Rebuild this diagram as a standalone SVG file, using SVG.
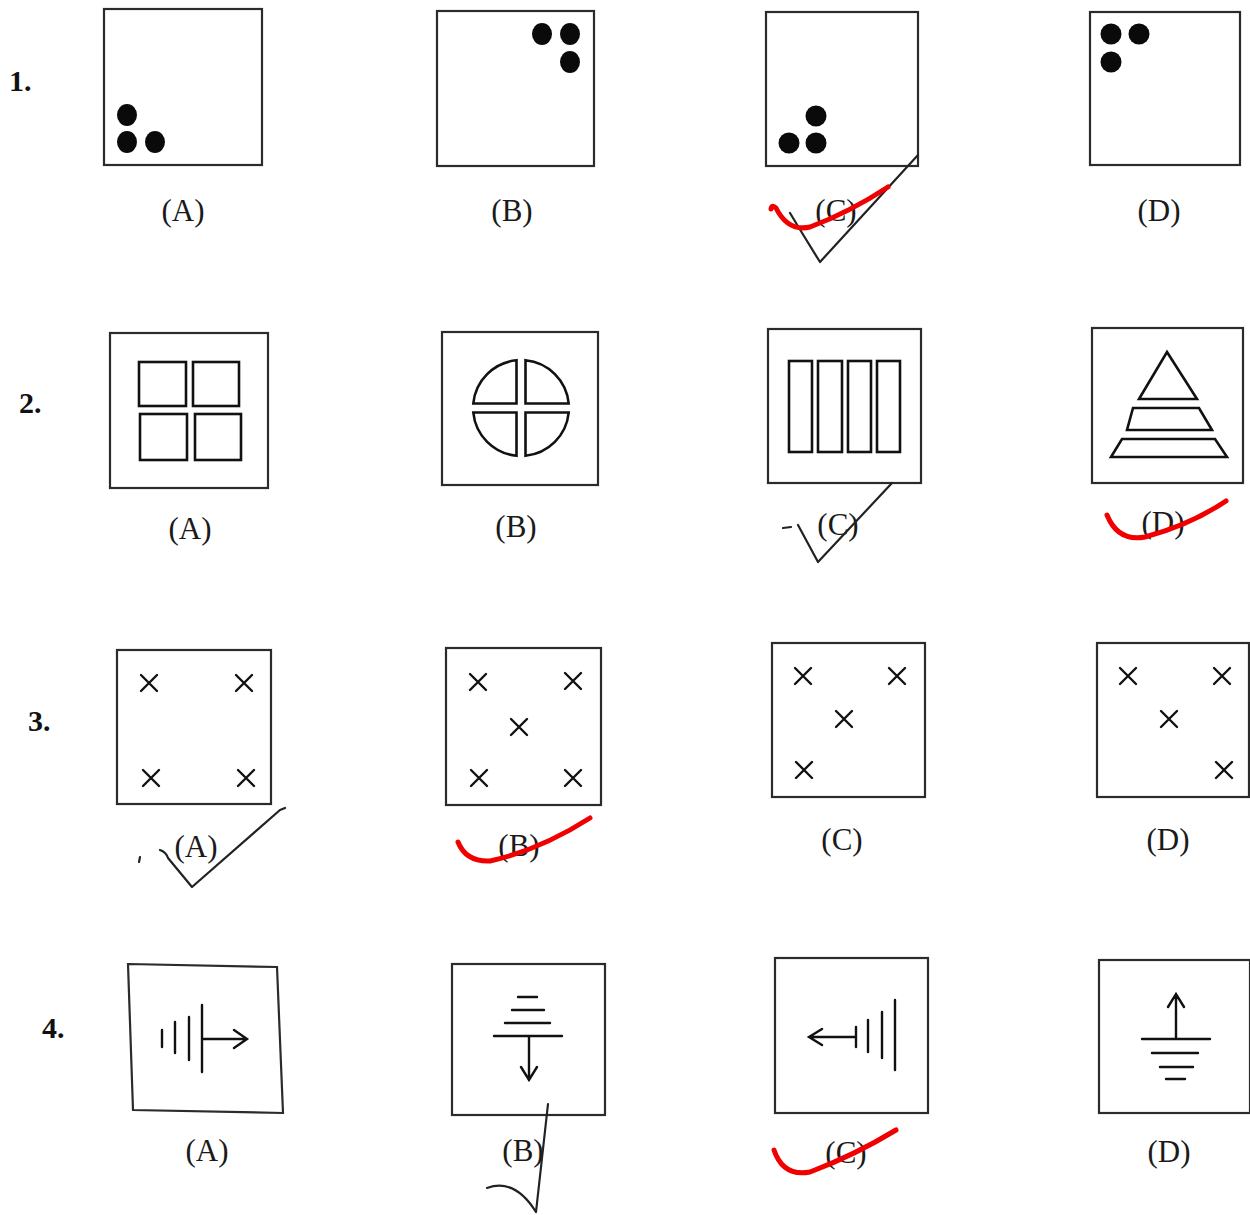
<svg xmlns="http://www.w3.org/2000/svg" width="1250" height="1215" viewBox="0 0 1250 1215">
<style>
.box{fill:none;stroke:#2b2b2b;stroke-width:2.2}
.fig{fill:none;stroke:#111;stroke-width:2.6;stroke-linejoin:miter}
.thin{fill:none;stroke:#111;stroke-width:2.4;stroke-linecap:round}
.lbl{font-family:"Liberation Serif","Times New Roman",serif;font-size:31px;fill:#1a1a1a;text-anchor:middle}
.num{font-family:"Liberation Serif","Times New Roman",serif;font-size:30px;font-weight:bold;fill:#111}
.dot{fill:#0a0a0a}
.pen{fill:none;stroke:#222;stroke-width:2.2;stroke-linecap:round;stroke-linejoin:round}
.red{fill:none;stroke:#f00000;stroke-width:5;stroke-linecap:round;stroke-linejoin:round}
</style>
<defs>
<path id="x" d="M-8,-8 L8,8 M8,-8 L-8,8" class="thin"/>
</defs>
<rect width="1250" height="1215" fill="#ffffff"/>

<!-- Row numbers -->
<text class="num" x="9" y="91">1.</text>
<text class="num" x="19" y="413">2.</text>
<text class="num" x="28" y="731">3.</text>
<text class="num" x="42" y="1038">4.</text>

<!-- Row 1 -->
<g id="q1a">
<rect class="box" x="104" y="9" width="158" height="156"/>
<ellipse class="dot" cx="127" cy="115" rx="10" ry="11"/>
<ellipse class="dot" cx="127" cy="142" rx="10" ry="11"/>
<ellipse class="dot" cx="155" cy="142" rx="10" ry="11"/>
<text class="lbl" x="183" y="221">(A)</text>
</g>
<g id="q1b">
<rect class="box" x="437" y="11" width="157" height="155"/>
<ellipse class="dot" cx="542" cy="34" rx="10" ry="11"/>
<ellipse class="dot" cx="570" cy="34" rx="10" ry="11"/>
<ellipse class="dot" cx="570" cy="62" rx="10" ry="11"/>
<text class="lbl" x="512" y="221">(B)</text>
</g>
<g id="q1c">
<rect class="box" x="766" y="12" width="152" height="154"/>
<circle class="dot" cx="816" cy="116" r="10.5"/>
<circle class="dot" cx="789" cy="143" r="10.5"/>
<circle class="dot" cx="816" cy="143" r="10.5"/>
<text class="lbl" x="836" y="221">(C)</text>
</g>
<g id="q1d">
<rect class="box" x="1090" y="12" width="150" height="153"/>
<circle class="dot" cx="1111" cy="34" r="10.5"/>
<circle class="dot" cx="1139" cy="34" r="10.5"/>
<circle class="dot" cx="1111" cy="62" r="10.5"/>
<text class="lbl" x="1159" y="221">(D)</text>
</g>

<!-- Row 2 -->
<g id="q2a">
<rect class="box" x="110" y="333" width="158" height="155"/>
<rect class="fig" x="139" y="362" width="47" height="44"/>
<rect class="fig" x="193" y="362" width="46" height="44"/>
<rect class="fig" x="140" y="414" width="47" height="46"/>
<rect class="fig" x="195" y="414" width="46" height="46"/>
<text class="lbl" x="190" y="539">(A)</text>
</g>
<g id="q2b">
<rect class="box" x="442" y="332" width="156" height="153"/>
<path class="fig" d="M516.5,403.5 L473.3,403.5 A48,48 0 0 1 516.5,360.3 Z"/>
<path class="fig" d="M525.5,403.5 L568.7,403.5 A48,48 0 0 0 525.5,360.3 Z"/>
<path class="fig" d="M516.5,412.5 L473.3,412.5 A48,48 0 0 0 516.5,455.7 Z"/>
<path class="fig" d="M525.5,412.5 L568.7,412.5 A48,48 0 0 1 525.5,455.7 Z"/>
<text class="lbl" x="516" y="537">(B)</text>
</g>
<g id="q2c">
<rect class="box" x="768" y="329" width="153" height="154"/>
<rect class="fig" x="789" y="361" width="23" height="91"/>
<rect class="fig" x="818" y="361" width="24" height="91"/>
<rect class="fig" x="848" y="361" width="23" height="91"/>
<rect class="fig" x="877" y="361" width="23" height="91"/>
<text class="lbl" x="838" y="535">(C)</text>
</g>
<g id="q2d">
<rect class="box" x="1092" y="328" width="151" height="155"/>
<path class="fig" d="M1167,352 L1197,399 L1139,399 Z"/>
<path class="fig" d="M1133,408 L1199,408 L1212,430 L1127,430 Z"/>
<path class="fig" d="M1122,439 L1215,439 L1227,457 L1111,457 Z"/>
<text class="lbl" x="1163" y="533">(D)</text>
</g>

<!-- Row 3 -->
<g id="q3a">
<rect class="box" x="117" y="650" width="154" height="154"/>
<use href="#x" x="149" y="683"/>
<use href="#x" x="244" y="683"/>
<use href="#x" x="151" y="778"/>
<use href="#x" x="246" y="778"/>
<text class="lbl" x="196" y="857">(A)</text>
</g>
<g id="q3b">
<rect class="box" x="446" y="648" width="155" height="157"/>
<use href="#x" x="478" y="682"/>
<use href="#x" x="573" y="681"/>
<use href="#x" x="519" y="727"/>
<use href="#x" x="479" y="778"/>
<use href="#x" x="573" y="778"/>
<text class="lbl" x="519" y="856">(B)</text>
</g>
<g id="q3c">
<rect class="box" x="772" y="643" width="153" height="154"/>
<use href="#x" x="803" y="676"/>
<use href="#x" x="897" y="676"/>
<use href="#x" x="844" y="719"/>
<use href="#x" x="804" y="770"/>
<text class="lbl" x="842" y="850">(C)</text>
</g>
<g id="q3d">
<rect class="box" x="1097" y="643" width="152" height="154"/>
<use href="#x" x="1128" y="676"/>
<use href="#x" x="1222" y="676"/>
<use href="#x" x="1169" y="719"/>
<use href="#x" x="1224" y="770"/>
<text class="lbl" x="1168" y="850">(D)</text>
</g>

<!-- Row 4 -->
<g id="q4a">
<path class="box" d="M128,964 L277,967 L283,1113 L133,1110 Z"/>
<path class="thin" d="M162,1030 V1047 M175,1022 V1053 M189,1017 V1060 M202,1005 V1072 M202,1039 H246 M234,1030 L247,1039 L234,1048"/>
<text class="lbl" x="207" y="1161">(A)</text>
</g>
<g id="q4b">
<rect class="box" x="452" y="964" width="153" height="151"/>
<path class="thin" d="M518,997 H537 M512,1010 H544 M505,1023 H550 M494,1036 H562 M529,1036 V1080 M521,1067 L529,1080 L537,1067"/>
<text class="lbl" x="523" y="1161">(B)</text>
</g>
<g id="q4c">
<rect class="box" x="775" y="958" width="153" height="155"/>
<path class="thin" d="M856,1037 H810 M822,1029 L809,1037 L822,1045 M856,1027 V1047 M868,1020 V1052 M882,1012 V1058 M895,1000 V1070"/>
<text class="lbl" x="846" y="1163">(C)</text>
</g>
<g id="q4d">
<rect class="box" x="1099" y="960" width="151" height="153"/>
<path class="thin" d="M1142,1039 H1210 M1152,1053 H1198 M1160,1067 H1193 M1166,1079 H1185 M1176,1039 V994 M1168,1007 L1176,994 L1184,1007"/>
<text class="lbl" x="1169" y="1162">(D)</text>
</g>

<!-- Hand marks -->
<g id="marks">
<path class="pen" d="M790,213 Q805,238 820,262 L918,155"/>
<path class="red" d="M771,209 Q772,204 776,208 Q788,232 810,227 Q850,212 888,187"/>
<path class="pen" d="M783,528 L791,527 M798,525 L818,562 L892,483"/>
<path class="red" d="M1107,515 Q1118,542 1145,537 Q1190,525 1226,501"/>
<path class="pen" d="M140,857 L139,862 M160,850 Q166,852 168,858 L192,887 L280,810 L285,808"/>
<path class="red" d="M458,842 Q466,862 490,861 Q540,850 590,818"/>
<path class="pen" d="M487,1188 Q515,1178 536,1212 L548,1104"/>
<path class="red" d="M774,1150 Q783,1177 810,1172 Q855,1155 896,1130"/>
</g>
</svg>
